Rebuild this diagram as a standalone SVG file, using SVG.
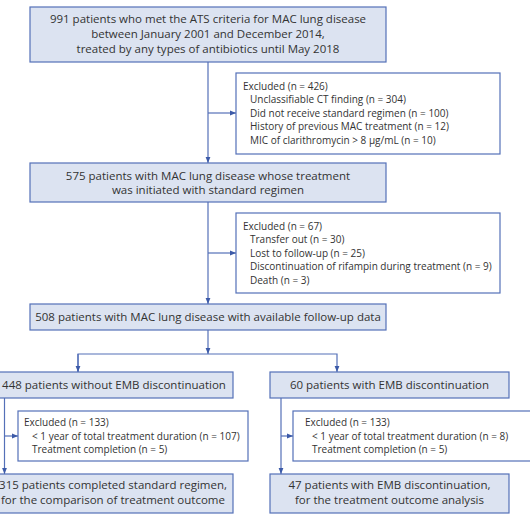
<svg xmlns="http://www.w3.org/2000/svg" width="530" height="515" viewBox="0 0 530 515">
<style>
.box{fill:#dce3f1;stroke:#5470b8;stroke-width:1.2}
.ex{fill:#ffffff;stroke:#5470b8;stroke-width:1.2}
.t{font-family:"Source Sans Pro","Open Sans","Noto Sans",sans-serif;font-size:11.5px;fill:#333333}
.c{text-anchor:middle}
.s{font-size:10px}
.ln{fill:none;stroke:#5470b8;stroke-width:1.2}
</style>
<defs>
<marker id="ah" viewBox="0 0 10 10" refX="10" refY="5" markerWidth="5" markerHeight="5" orient="auto"><path d="M0,1 L10,5 L0,9 z" fill="#3c5aa8"/></marker>
</defs>
<rect width="530" height="515" fill="#ffffff"/>
<g id="connectors">
<path class="ln" d="M208,62 V163" marker-end="url(#ah)"/>
<path class="ln" d="M208,113 H236" marker-end="url(#ah)"/>
<path class="ln" d="M208,202 V304" marker-end="url(#ah)"/>
<path class="ln" d="M208,253 H236" marker-end="url(#ah)"/>
<path class="ln" d="M208,330 V354" marker-end="url(#ah)"/>
<path class="ln" d="M78,372 V354 H337 V372" marker-end="url(#ah)"/>
<path class="ln" d="M78,354 V372" marker-end="url(#ah)"/>
<path class="ln" d="M4.5,398 V474" marker-end="url(#ah)"/>
<path class="ln" d="M4.5,436 H18" marker-end="url(#ah)"/>
<path class="ln" d="M281,398 V474" marker-end="url(#ah)"/>
<path class="ln" d="M281,436 H293" marker-end="url(#ah)"/>
</g>
<g id="n1">
<rect class="box" x="30" y="7" width="356" height="55"/>
<text class="t c" x="208" y="23">991 patients who met the ATS criteria for MAC lung disease</text>
<text class="t c" x="208" y="38">between January 2001 and December 2014,</text>
<text class="t c" x="208" y="53">treated by any types of antibiotics until May 2018</text>
</g>
<g id="ex1">
<rect class="ex" x="236" y="73" width="264" height="81"/>
<text class="t s" x="243" y="89.5">Excluded (n = 426)</text>
<text class="t s" x="250" y="103">Unclassifiable CT finding (n = 304)</text>
<text class="t s" x="250" y="116.5">Did not receive standard regimen (n = 100)</text>
<text class="t s" x="250" y="130">History of previous MAC treatment (n = 12)</text>
<text class="t s" x="250" y="143.5">MIC of clarithromycin &gt; 8 μg/mL (n = 10)</text>
</g>
<g id="n2">
<rect class="box" x="30" y="163" width="356" height="39"/>
<text class="t c" x="208" y="180">575 patients with MAC lung disease whose treatment</text>
<text class="t c" x="208" y="194">was initiated with standard regimen</text>
</g>
<g id="ex2">
<rect class="ex" x="236" y="213" width="264" height="80"/>
<text class="t s" x="243" y="229.5">Excluded (n = 67)</text>
<text class="t s" x="250" y="243">Transfer out (n = 30)</text>
<text class="t s" x="250" y="256.5">Lost to follow-up (n = 25)</text>
<text class="t s" x="250" y="270">Discontinuation of rifampin during treatment (n = 9)</text>
<text class="t s" x="250" y="283.5">Death (n = 3)</text>
</g>
<g id="n3">
<rect class="box" x="30" y="304" width="356" height="26"/>
<text class="t c" x="208" y="321">508 patients with MAC lung disease with available follow-up data</text>
</g>
<g id="n4">
<rect class="box" x="-5" y="372" width="238" height="26"/>
<text class="t c" x="114" y="388.5">448 patients without EMB discontinuation</text>
</g>
<g id="n5">
<rect class="box" x="270" y="372" width="239" height="26"/>
<text class="t c" x="389.5" y="388.5">60 patients with EMB discontinuation</text>
</g>
<g id="ex3">
<rect class="ex" x="18" y="411" width="230" height="50"/>
<text class="t s" x="24" y="425.5">Excluded (n = 133)</text>
<text class="t s" x="32" y="439.5">&lt; 1 year of total treatment duration (n = 107)</text>
<text class="t s" x="32" y="452.5">Treatment completion (n = 5)</text>
</g>
<g id="ex4">
<rect class="ex" x="293" y="411" width="245" height="50"/>
<text class="t s" x="305" y="425.5">Excluded (n = 133)</text>
<text class="t s" x="312" y="439.5">&lt; 1 year of total treatment duration (n = 8)</text>
<text class="t s" x="312" y="452.5">Treatment completion (n = 5)</text>
</g>
<g id="n6">
<rect class="box" x="-5" y="474" width="238" height="39"/>
<text class="t c" x="113" y="489">315 patients completed standard regimen,</text>
<text class="t c" x="113" y="504">for the comparison of treatment outcome</text>
</g>
<g id="n7">
<rect class="box" x="270" y="474" width="239" height="39"/>
<text class="t c" x="389.5" y="489">47 patients with EMB discontinuation,</text>
<text class="t c" x="389.5" y="504">for the treatment outcome analysis</text>
</g>
</svg>
